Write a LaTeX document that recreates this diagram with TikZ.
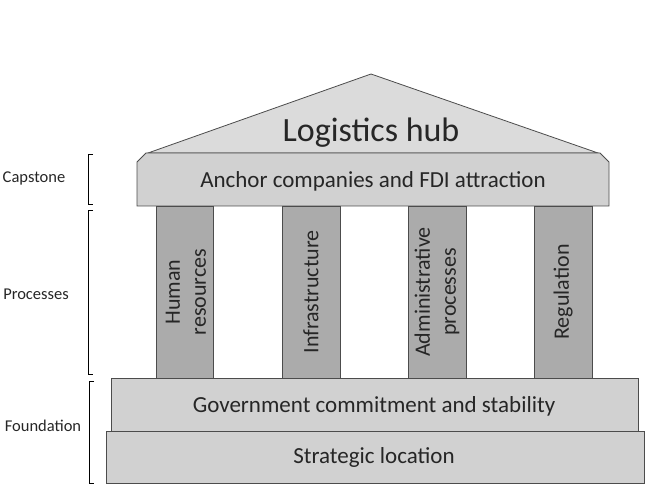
\documentclass[tikz,border=0pt]{standalone}
\usepackage{fontspec}
\setmainfont{Carlito}
\begin{document}
\begin{tikzpicture}[x=1pt,y=-1pt,
  edge/.style={draw=black!70, line width=0.8pt},
  light/.style={edge, fill=black!18},
  dark/.style={edge, fill=black!33},
  roof/.style={edge, fill=black!14},
  brk/.style={draw=black, line width=1pt},
  big/.style={font=\fontsize{23}{25}\selectfont, text=black!85},
  lbl/.style={font=\fontsize{16.5}{18}\selectfont, text=black!85},
  pil/.style={rotate=90, font=\fontsize{22}{26}\selectfont, align=center, text=black!85}]
\useasboundingbox (0,0) rectangle (648,486);
% roof
\draw[roof] (148,153) -- (371,74) -- (598,153) -- cycle;
\node[font=\fontsize{34}{36}\selectfont, text=black!85] (hub) at (371,133) {Logistics hub};
% capstone
\draw[light] (137,206) -- (137,162) -- (146,153) -- (600,153) -- (609,162) -- (609,206) -- cycle;
\node[big] (cap) at (373,181) {Anchor companies and FDI attraction};
% pillars
\draw[dark] (156,206) rectangle (213,380);
\draw[dark] (282,206) rectangle (340,380);
\draw[dark] (408,206) rectangle (466,380);
\draw[dark] (534,206) rectangle (592,380);
\node[pil] (p1) at (186,292) {Human\\resources};
\node[pil] (p2) at (311,292) {Infrastructure};
\node[pil] (p3) at (437,292) {Administrative\\processes};
\node[pil] (p4) at (563,292) {Regulation};
% foundation
\draw[light] (111,378) rectangle (638,431);
\node[big] (gov) at (374,406) {Government commitment and stability};
\draw[light] (106,431) rectangle (644,483);
\node[big] (loc) at (374,457) {Strategic location};
% brackets
\draw[brk] (93,155) -- (88,155) -- (88,205) -- (93,205);
\draw[brk] (93,211) -- (88,211) -- (88,374) -- (93,374);
\draw[brk] (94,381) -- (89,381) -- (89,483) -- (94,483);
\node[lbl] (l1) at (34,178) {Capstone};
\node[lbl] (l2) at (36,294) {Processes};
\node[lbl] (l3) at (43,426) {Foundation};
\end{tikzpicture}
\end{document}
